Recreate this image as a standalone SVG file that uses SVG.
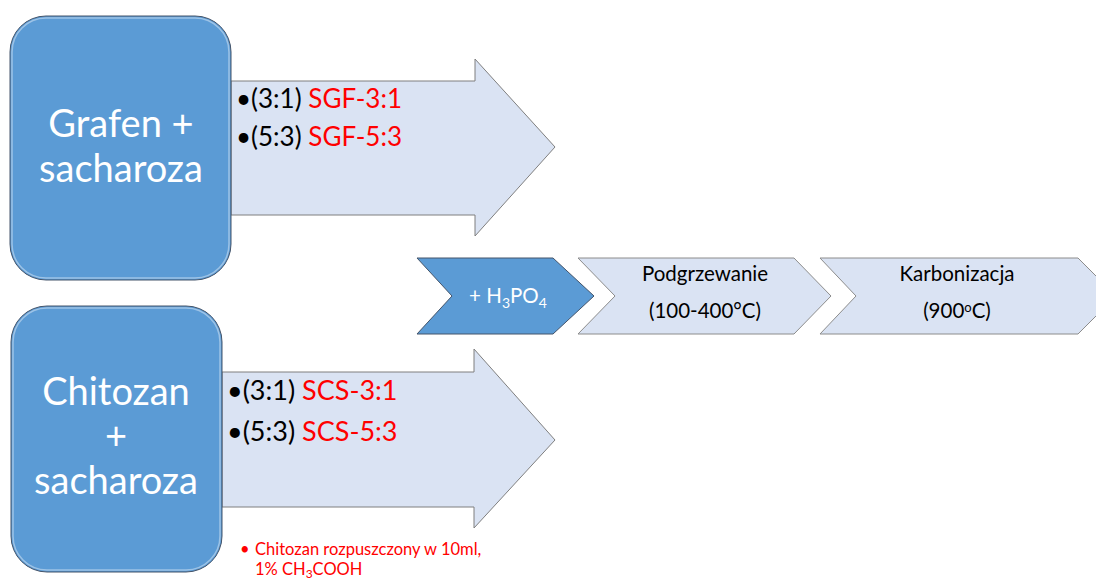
<svg xmlns="http://www.w3.org/2000/svg" width="1096" height="579" viewBox="0 0 1096 579">
<style>
.box{fill:#5B9BD5;stroke:#44546A;stroke-width:1}
.boxhl{fill:none;stroke:#9DC3E6;stroke-width:1.5}
.arrow{fill:#DAE3F3;stroke:#7F7F7F;stroke-width:1}
.chev{fill:#DAE3F3;stroke:#8C8C8C;stroke-width:1}
.chevd{fill:#5B9BD5;stroke:#44546A;stroke-width:1}
.big{font-family:Lato,"Liberation Sans",sans-serif;font-size:38px;fill:#FFFFFF;text-anchor:middle}
.bul{font-family:Lato,"Liberation Sans",sans-serif;font-size:26px;fill:#000000}
.red{fill:#FF0000}
.step{font-family:Lato,"Liberation Sans",sans-serif;font-size:20.5px;fill:#000000;text-anchor:middle}
.note{font-family:Lato,"Liberation Sans",sans-serif;font-size:16.5px;fill:#FF0000}
</style>
<rect width="1096" height="579" fill="#FFFFFF"/>
<g id="connectors">
  <g id="arrow-top">
    <polygon class="arrow" points="231,81 475,81 475,59 555,147 475,236 475,215 231,215"/>
    <text class="bul" x="236" y="108">•(3:1) <tspan class="red">SGF-3:1</tspan></text>
    <text class="bul" x="236" y="146">•(5:3) <tspan class="red">SGF-5:3</tspan></text>
  </g>
  <g id="arrow-bottom">
    <polygon class="arrow" points="222,372 474,372 474,349 555,440 474,528 474,507 222,507"/>
    <text class="bul" x="227" y="400" style="font-size:27px">•(3:1) <tspan class="red">SCS-3:1</tspan></text>
    <text class="bul" x="227" y="441" style="font-size:27px">•(5:3) <tspan class="red">SCS-5:3</tspan></text>
  </g>
</g>
<g id="node-grafen">
  <rect class="box" x="10" y="16" width="221" height="264" rx="36" ry="36"/>
  <rect class="boxhl" x="12" y="18" width="217" height="260" rx="34" ry="34"/>
  <text class="big" x="121" y="137">Grafen +</text>
  <text class="big" x="121" y="182">sacharoza</text>
</g>
<g id="node-chitozan">
  <rect class="box" x="11" y="306" width="211" height="266" rx="36" ry="36"/>
  <rect class="boxhl" x="13" y="308" width="207" height="262" rx="34" ry="34"/>
  <text class="big" x="116" y="405">Chitozan</text>
  <text class="big" x="116" y="449">+</text>
  <text class="big" x="116" y="494">sacharoza</text>
</g>
<g id="node-h3po4">
  <polygon class="chevd" points="417,258 553,258 594,296 553,334 417,334 452,296"/>
  <text class="step" x="508" y="303" style="fill:#FFFFFF">+ H<tspan dy="5" font-size="14">3</tspan><tspan dy="-5">PO</tspan><tspan dy="5" font-size="14">4</tspan></text>
</g>
<g id="node-podgrzewanie">
  <polygon class="chev" points="578,258 794,258 831,296 794,334 578,334 615,296"/>
  <text class="step" x="705" y="281">Podgrzewanie</text>
  <text class="step" x="705" y="318">(100-400°C)</text>
</g>
<g id="node-karbonizacja">
  <polygon class="chev" points="820,258 1078,258 1116,296 1078,334 820,334 856,296"/>
  <text class="step" x="957" y="281">Karbonizacja</text>
  <text class="step" x="957" y="318">(900<tspan dy="-6" font-size="13">o</tspan><tspan dy="6">C)</tspan></text>
</g>
<g id="note">
  <text class="note" x="240" y="555">•</text>
  <text class="note" x="255" y="555">Chitozan rozpuszczony w 10ml,</text>
  <text class="note" x="255" y="575">1% CH<tspan dy="3" font-size="12">3</tspan><tspan dy="-3">COOH</tspan></text>
</g>
</svg>
